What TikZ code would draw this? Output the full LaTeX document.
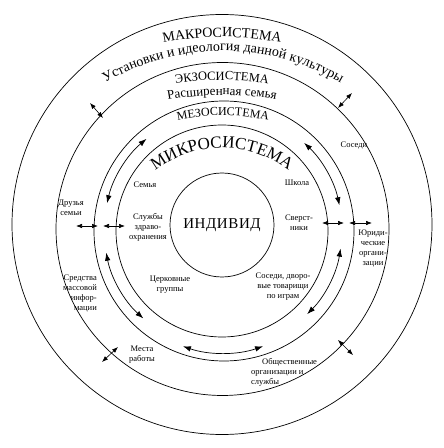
\documentclass[tikz,border=0pt]{standalone}
\usepackage{fontspec}
\setmainfont{Liberation Serif}
\usetikzlibrary{decorations.text, arrows.meta}
\begin{document}
\begin{tikzpicture}[x=1pt,y=1pt,
  ring/.style={line width=0.7pt},
  lbl/.style={font=\fontsize{8.5}{10}\selectfont, align=center, inner sep=0pt},
  dbl/.style={line width=0.6pt, {Latex[length=6pt,width=4.5pt]}-{Latex[length=6pt,width=4.5pt]}},
  carrow/.style={line width=0.7pt, {Latex[length=8pt,width=5.5pt]}-{Latex[length=8pt,width=5.5pt]}},
  arctext/.style={decorate, decoration={text along path, text align=center, text={#1}}}]
\useasboundingbox (0,0) rectangle (444,448);
% centres of the rings
\coordinate (cO) at (222,223.5);
\coordinate (cE) at (222.5,219);
\coordinate (cM) at (224,217);
\coordinate (cMi) at (222,217);
\coordinate (cA) at (223,218);
% rings
\draw[ring] (cO) circle[radius=210];
\draw[ring] (cE) circle[radius=166.5];
\draw[ring] (cM) circle[radius=130];
\draw[ring] (cMi) circle[radius=106];
\node[draw, circle, ring, minimum size=104pt, inner sep=0pt,
      font=\fontsize{15}{17}\selectfont\addfontfeatures{LetterSpace=4}] (ind) at (222,223) {ИНДИВИД};
% curved titles
\path[arctext={|\fontsize{14}{16}\selectfont|МАКРОСИСТЕМА}] (222,111) ++(120:300) arc[start angle=120, end angle=60, radius=300];
\path[arctext={|\fontsize{14}{16}\selectfont|Установки и идеология данной культуры}] (223,164) ++(150:233) arc[start angle=150, end angle=30, radius=233];
\path[arctext={|\fontsize{12.5}{15}\selectfont|ЭКЗОСИСТЕМА}] (222,95) ++(120:273) arc[start angle=120, end angle=60, radius=273];
\path[arctext={|\fontsize{13}{15}\selectfont|Расширенная семья}] (222,50) ++(120:303) arc[start angle=120, end angle=60, radius=303];
\path[arctext={|\fontsize{12}{14}\selectfont|МЕЗОСИСТЕМА}] (223,121.5) ++(130:211) arc[start angle=130, end angle=50, radius=211];
\path[arctext={|\fontsize{17}{19}\selectfont|МИКРОСИСТЕМА}] (222,190) ++(160:110) arc[start angle=160, end angle=20, radius=110];
% microsystem labels
\node[lbl] (semya) at (145,263) {Семья};
\node[lbl] (shkola) at (297,265) {Школа};
\node[lbl] (zdrav) at (148,221) {Службы\\здраво-\\охранения};
\node[lbl] (sverst) at (299,225) {Сверст-\\ники};
\node[lbl] (cerk) at (170,163) {Церковные\\группы};
\node[lbl] (sosedi1) at (283,161) {Соседи, дворо-\\вые товарищи\\по играм};
% exosystem labels
\node[lbl] (druzya) at (71,240) {Друзья\\семьи};
\node[lbl] (sosedi2) at (354,302) {Соседи};
\node[lbl] (yur) at (373,199) {Юриди-\\ческие\\органи-\\зации};
\node[lbl, align=right, anchor=east] (smi) at (97,154) {Средства\\массовой\\инфор-\\мации};
\node[lbl] (mesta) at (142,93) {Места\\работы};
\node[lbl, align=left, anchor=west] (obsch) at (251,76) {\hspace{11pt}Общественные\\организации и\\службы};
% diagonal double arrows across the exosystem ring
\coordinate (d1a) at (90,345);  \coordinate (d1b) at (103,330);
\coordinate (d2a) at (352,355); \coordinate (d2b) at (338,340);
\coordinate (d3a) at (102,86);  \coordinate (d3b) at (118,101);
\coordinate (d4a) at (338,108); \coordinate (d4b) at (353,93);
\draw[dbl] (d1a) -- (d1b);
\draw[dbl] (d2a) -- (d2b);
\draw[dbl] (d3a) -- (d3b);
\draw[dbl] (d4a) -- (d4b);
% horizontal double arrows
\coordinate (h1a) at (76,222);  \coordinate (h1b) at (98,222);
\coordinate (h2a) at (103,222); \coordinate (h2b) at (125,222);
\coordinate (h3a) at (322,225); \coordinate (h3b) at (344,225);
\coordinate (h4a) at (349,225); \coordinate (h4b) at (372,225);
\draw[dbl] (h1a) -- (h1b);
\draw[dbl] (h2a) -- (h2b);
\draw[dbl] (h3a) -- (h3b);
\draw[dbl] (h4a) -- (h4b);
% curved double arrows between meso and micro rings
\path (cA) ++(167:119) coordinate (a1);
\path (cA) ++(191:119) coordinate (a2);
\path (cA) ++(47:119) coordinate (a3);
\path (cA) ++(-9:119) coordinate (a4);
\path (cA) ++(251:123) coordinate (a5);
\draw[carrow] (a1) arc[start angle=167, end angle=130, radius=119];
\draw[carrow] (a2) arc[start angle=191, end angle=228, radius=119];
\draw[carrow] (a3) arc[start angle=47, end angle=12, radius=119];
\draw[carrow] (a4) arc[start angle=-9, end angle=-45, radius=119];
\draw[carrow] (a5) arc[start angle=251, end angle=289, radius=123];
\end{tikzpicture}
\end{document}
